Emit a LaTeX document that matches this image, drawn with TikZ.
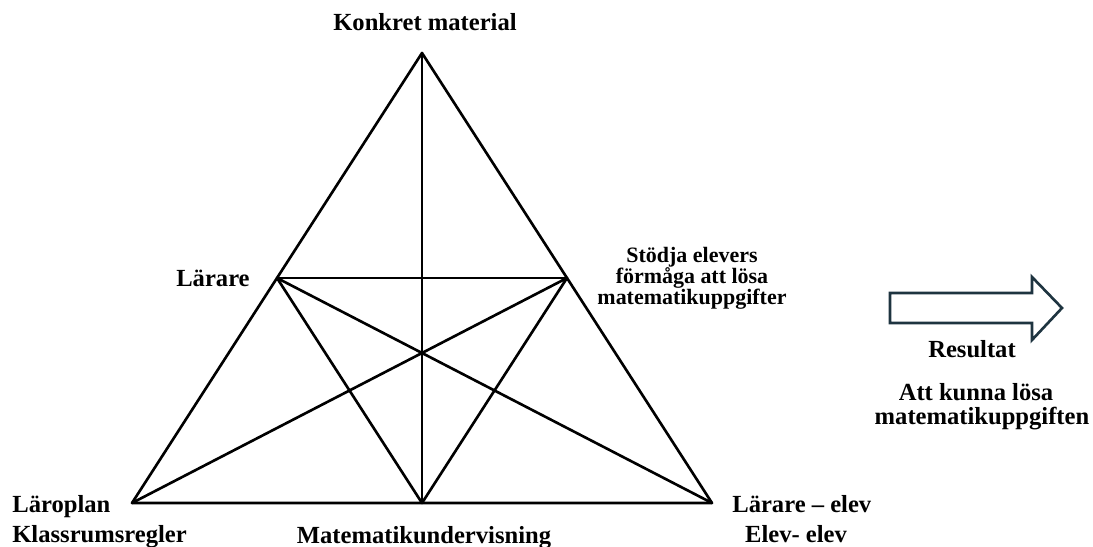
\documentclass[tikz,border=0pt]{standalone}
\usepackage{fontspec}
\setmainfont{Liberation Serif}
\usetikzlibrary{calc}
\definecolor{arrowcol}{HTML}{1E3440}
\tikzset{
  edge/.style={line width=1.5pt},
  lbl/.style={inner sep=0pt, font=\fontsize{14}{17}\selectfont\bfseries},
  smalllbl/.style={inner sep=0pt, align=center, font=\fontsize{12.5}{12}\selectfont\bfseries}
}
\begin{document}
\begin{tikzpicture}[x=0.02cm, y=-0.02cm, line join=round, line cap=round]
\useasboundingbox (0,0) rectangle (1093,547);
% hoerner och mittpunkter
\coordinate (L) at (132,503);
\coordinate (R) at (712,503);
\coordinate (K) at (422,53);
\coordinate (M) at ($(L)!0.5!(R)$);
\coordinate (T) at ($(L)!0.5!(K)$);
\coordinate (S) at ($(R)!0.5!(K)$);
% triangeln
\draw[edge] (L) -- (R) -- (K) -- cycle;
\draw[edge] (K) -- (M);
\draw[edge] (T) -- (S);
\draw[edge] (T) -- (R);
\draw[edge] (S) -- (L);
\draw[edge] (T) -- (M);
\draw[edge] (S) -- (M);
% etiketter
\node[lbl, anchor=base] (konkret) at (425,31) {Konkret material};
\node[lbl, anchor=base east] (larare) at (250,287) {Lärare};
\node[smalllbl, anchor=center] (stodja) at (692,278) {Stödja elevers\\förmåga att lösa\\matematikuppgifter};
\node[lbl, anchor=base west] (laroplan) at (12,512) {Läroplan};
\node[lbl, anchor=base west] (regler) at (12,542) {Klassrumsregler};
\node[lbl, anchor=base] (undervisning) at (424,543) {Matematikundervisning};
\node[lbl, anchor=base west] (larelev) at (732,512) {Lärare – elev};
\node[lbl, anchor=base] (elevelev) at (796,542) {Elev- elev};
% pil och resultat
\draw[line width=1.5pt, draw=arrowcol, line join=miter] (890,293) -- (1032,293) -- (1032,277) -- (1062,308) -- (1032,340) -- (1032,323) -- (890,323) -- cycle;
\node[lbl, anchor=base] (resultat) at (972,358) {Resultat};
\node[lbl, anchor=base] (kunna) at (976,400) {Att kunna lösa};
\node[lbl, anchor=base] (uppgiften) at (982,425) {matematikuppgiften};
\end{tikzpicture}
\end{document}
